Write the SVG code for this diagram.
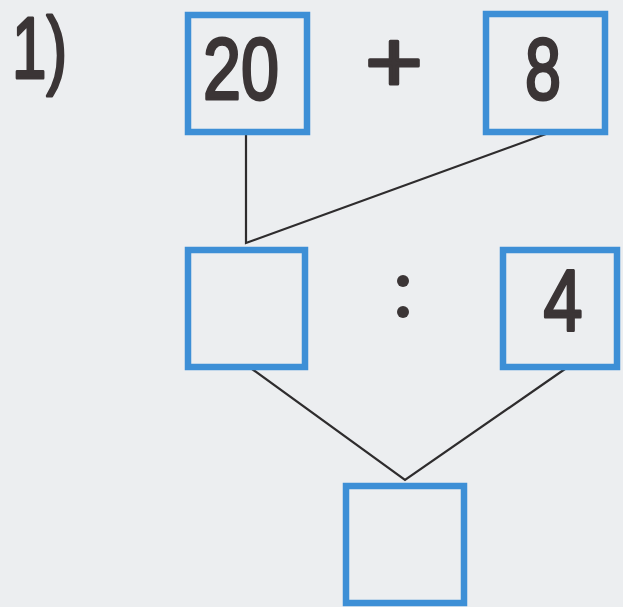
<svg xmlns="http://www.w3.org/2000/svg" width="623" height="607" viewBox="0 0 623 607">
<style>
.box{fill:none;stroke:#3d8fd6;stroke-width:6.5}
.num{font-family:"Liberation Sans",Arial,sans-serif;font-size:88px;fill:#3b3536;stroke:#3b3536;stroke-width:3;stroke-linejoin:round}
.link{fill:none;stroke:#2e2c2d;stroke-width:2.2;stroke-linejoin:miter}
</style>
<rect x="0" y="0" width="623" height="607" fill="#eceef0"/>
<text class="num" x="12" y="78" font-size="82" textLength="55" lengthAdjust="spacingAndGlyphs">1)</text>
<g id="connectors">
<polyline class="link" points="246,135 246,243 546,134"/>
<polyline class="link" points="252,369 405,480 565,369"/>
</g>
<g id="node-20">
<rect class="box" x="188" y="15" width="119" height="117"/>
<text class="num" x="241" y="99" text-anchor="middle" textLength="76" lengthAdjust="spacingAndGlyphs">20</text>
</g>
<g id="op-plus">
<text class="num" x="394" y="92" text-anchor="middle" stroke-width="1" textLength="58" lengthAdjust="spacingAndGlyphs">+</text>
</g>
<g id="node-8">
<rect class="box" x="486" y="14" width="119" height="118"/>
<text class="num" x="543" y="99" text-anchor="middle" textLength="36" lengthAdjust="spacingAndGlyphs">8</text>
</g>
<g id="node-mid">
<rect class="box" x="188" y="250" width="117" height="117"/>
</g>
<g id="op-colon">
<circle cx="403" cy="281" r="6" fill="#3b3536"/>
<circle cx="403" cy="312" r="6" fill="#3b3536"/>
</g>
<g id="node-4">
<rect class="box" x="503" y="250" width="114" height="117"/>
<text class="num" x="563" y="331" text-anchor="middle" font-size="82" textLength="39" lengthAdjust="spacingAndGlyphs">4</text>
</g>
<g id="node-result">
<rect class="box" x="346" y="486" width="118" height="117"/>
</g>
</svg>
